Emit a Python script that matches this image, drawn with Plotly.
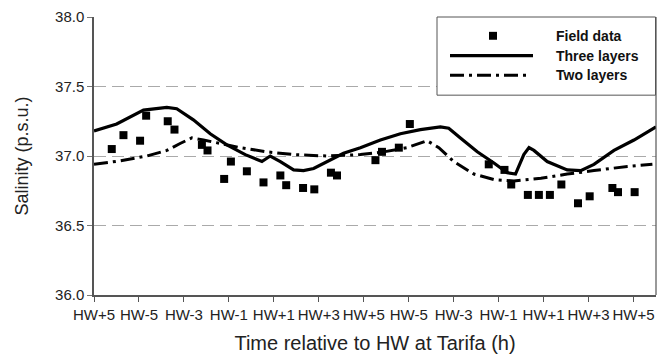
import plotly.graph_objects as go

# ---- data (hours from start of record; tick every 2 h) ----
tick_vals = [0, 2, 4, 6, 8, 10, 12, 14, 16, 18, 20, 22, 24]
tick_text = ["HW+5", "HW-5", "HW-3", "HW-1", "HW+1", "HW+3", "HW+5",
             "HW-5", "HW-3", "HW-1", "HW+1", "HW+3", "HW+5"]

field_x = [0.79, 1.31, 2.05, 2.32, 3.28, 3.58, 4.80, 5.05, 5.79, 6.09, 6.80, 7.54,
           8.29, 8.55, 9.30, 9.80, 10.54, 10.81,
           12.52, 12.81, 13.56, 14.05, 17.56, 18.26, 18.56, 19.30, 19.79, 20.28,
           20.79, 21.53, 22.05, 23.06, 23.31, 24.05]
field_y = [37.05, 37.15, 37.11, 37.29, 37.25, 37.19, 37.08, 37.04, 36.835, 36.96, 36.89, 36.81,
           36.86, 36.79, 36.77, 36.76, 36.88, 36.86,
           36.97, 37.03, 37.06, 37.23, 36.94, 36.90, 36.795, 36.72, 36.72, 36.72,
           36.795, 36.66, 36.71, 36.77, 36.74, 36.74]

three_x = [0.0, 1.01, 2.20, 3.24, 3.68, 4.42, 5.17, 5.91, 6.73, 7.47, 7.84, 8.29, 8.88,
           9.32, 9.77, 10.37, 11.10, 11.85, 12.74, 13.63, 14.52, 15.41, 15.78, 16.30,
           17.05, 17.79, 18.38, 18.75, 19.12, 19.35, 19.57, 20.16, 21.05, 21.65, 22.24,
           23.13, 24.02, 25.0]
three_y = [37.18, 37.23, 37.33, 37.35, 37.34, 37.26, 37.16, 37.08, 37.01, 36.96, 37.00, 36.96, 36.90,
           36.895, 36.91, 36.96, 37.02, 37.06, 37.115, 37.16, 37.19, 37.21, 37.20, 37.13,
           37.03, 36.95, 36.88, 36.87, 37.01, 37.06, 37.04, 36.96, 36.90, 36.895, 36.94,
           37.04, 37.115, 37.21]

two_x = [0.0, 1.16, 2.35, 3.24, 3.83, 4.35, 4.87, 5.61, 6.50, 7.69, 8.88, 10.37, 11.85,
         12.89, 13.93, 14.82, 15.34, 16.00, 16.90, 17.79, 18.68, 19.88, 21.05, 22.24,
         23.73, 24.84]
two_y = [36.94, 36.965, 37.00, 37.04, 37.09, 37.13, 37.115, 37.09, 37.06, 37.03, 37.01, 37.00, 37.01,
         37.03, 37.06, 37.11, 37.06, 36.96, 36.87, 36.83, 36.82, 36.84, 36.87, 36.895,
         36.925, 36.94]

legend_names = ["Field data", "Three layers", "Two layers"]

FONT = "Liberation Sans, Arial, sans-serif"
DASHDOT = "14px,5px,3px,5px"

fig = go.Figure()
fig.add_trace(go.Scatter(x=three_x, y=three_y, mode="lines", name=legend_names[1],
                         line=dict(color="black", width=3.2), showlegend=False))
fig.add_trace(go.Scatter(x=two_x, y=two_y, mode="lines", name=legend_names[2],
                         line=dict(color="black", width=3, dash=DASHDOT), showlegend=False))
fig.add_trace(go.Scatter(x=field_x, y=field_y, mode="markers", name=legend_names[0],
                         marker=dict(symbol="square", size=8, color="black"), showlegend=False))

# ---- legend drawn in paper coordinates ----
W, H = 664, 360
L, R, T, B = 94, 8, 14, 65
pw, ph = W - L - R, H - T - B

def px(x):
    return (x - L) / pw

def py(y):
    return 1 - (y - T) / ph

shapes = [
    dict(type="rect", xref="paper", yref="paper", x0=px(437), x1=px(655.5), y0=py(93), y1=py(14),
         line=dict(color="#555", width=1), fillcolor="white", layer="above"),
    dict(type="line", xref="paper", yref="paper", x0=1, x1=1, y0=0, y1=1,
         line=dict(color="#555", width=1.2)),
    dict(type="line", xref="paper", yref="paper", x0=px(450), x1=px(533), y0=py(53), y1=py(53),
         line=dict(color="black", width=3.2), layer="above"),
    dict(type="line", xref="paper", yref="paper", x0=px(450), x1=px(528), y0=py(73), y1=py(73),
         line=dict(color="black", width=3, dash=DASHDOT), layer="above"),
    dict(type="rect", xref="paper", yref="paper", x0=px(489), x1=px(497), y0=py(37), y1=py(29),
         line=dict(width=0), fillcolor="black", layer="above"),
]
annotations = []
for name, yy in zip(legend_names, [33, 53, 73]):
    annotations.append(dict(text="<b>%s</b>" % name, xref="paper", yref="paper",
                            x=px(554), y=py(yy), xanchor="left", yanchor="middle",
                            showarrow=False, font=dict(family=FONT, size=14, color="#111")))

fig.update_layout(
    width=W, height=H,
    margin=dict(l=L, r=R, t=T, b=B),
    paper_bgcolor="white", plot_bgcolor="white",
    font=dict(family=FONT, color="#222"),
    shapes=shapes, annotations=annotations,
    showlegend=False,
    xaxis=dict(range=[0, 25], tickmode="array", tickvals=tick_vals, ticktext=tick_text,
               tickangle=0,
               showgrid=False, zeroline=False, showline=True, linecolor="#555", linewidth=1.5,
               ticks="outside", ticklen=5, tickcolor="#555", tickfont=dict(size=15, color="#222"),
               title=dict(text="Time relative to HW at Tarifa (h)", font=dict(size=20, color="#222"),
                          standoff=14)),
    yaxis=dict(range=[36, 38], tickvals=[36.0, 36.5, 37.0, 37.5, 38.0], tickformat=".1f",
               showgrid=True, gridcolor="#aaa", gridwidth=1, griddash="12px,6px",
               zeroline=False, showline=True, linecolor="#555", linewidth=1.5,
               ticks="outside", ticklen=5, tickcolor="#777", tickfont=dict(size=15, color="#222"),
               title=dict(text="Salinity (p.s.u.)", font=dict(size=18, color="#222"), standoff=22)),
)

fig.write_html("out.html")
